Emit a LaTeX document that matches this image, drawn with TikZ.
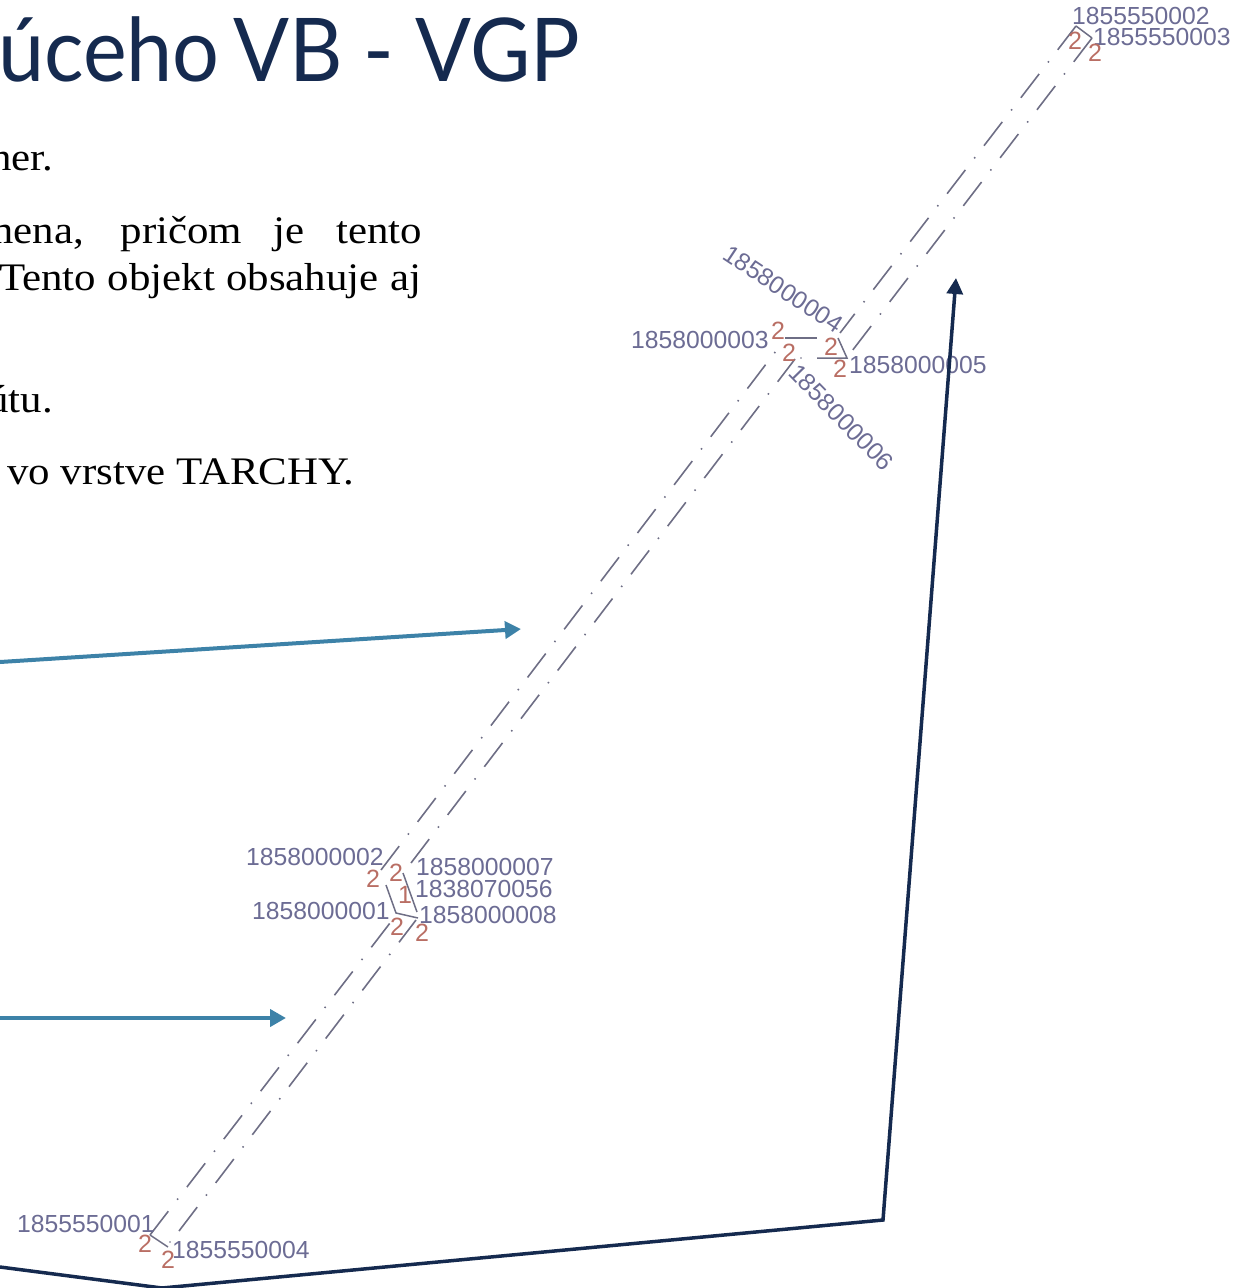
\documentclass[tikz,border=0pt]{standalone}
\usepackage{fontspec}
\setmainfont[FakeStretch=1.1]{Liberation Serif}
\newfontfamily\cadfont{Liberation Sans}
\newfontfamily\titlefont[FakeStretch=0.94]{Lato}
\usepackage{xcolor}
\usetikzlibrary{arrows.meta}
\definecolor{navyline}{HTML}{152A4F}
\definecolor{tealline}{HTML}{3D82A8}
\definecolor{cadblue}{HTML}{6C6C94}
\definecolor{cadred}{HTML}{B96E64}
\definecolor{cadline}{HTML}{6E6E85}
\tikzset{
    headline/.style={anchor=base west, inner sep=0pt, text=navyline, font=\titlefont\fontsize{88}{88}\selectfont},
    bodyline/.style={anchor=base west, inner sep=0pt, text=black, font=\fontsize{39}{39}\selectfont},
    point/.style={anchor=base west, inner sep=0pt, text=cadblue, font=\cadfont\fontsize{24.7}{24.7}\selectfont},
    height/.style={inner sep=0pt, text=cadred, font=\cadfont\fontsize{25}{25}\selectfont},
    axis/.style={draw=cadline, line width=1.6pt, dash pattern=on 30pt off 14.5pt on 1.5pt off 14.5pt},
    tick/.style={draw=cadline, line width=1.5pt},
    speck/.style={circle, fill=cadline, inner sep=0pt, minimum size=1.8pt},
    teal/.style={-{Triangle[length=16pt,width=17pt]}, draw=tealline, line width=4pt},
    navy/.style={-{Triangle[length=16pt,width=16pt]}, draw=navyline, line width=3.5pt}
}
\begin{document}
\begin{tikzpicture}[x=1pt, y=-1pt]
    \useasboundingbox (0,0) rectangle (1234,1288);

    % Text
    \node[headline] (T) at (-2,81) {úceho\hspace{-8pt} VB - VGP};
    \node[bodyline] (A) at (-10,170) {ner.};
    \node[bodyline] (B) at (-20,243) {\makebox[442pt][s]{mena, pričom je tento}};
    \node[bodyline] (C) at (-1,290) {\makebox[422pt][s]{Tento objekt obsahuje aj}};
    \node[bodyline] (D) at (-13,412) {útu.};
    \node[bodyline] (E) at (7,484) {vo vrstve TARCHY.};

    % Axes
    \coordinate (L1a) at (150,1235);  \coordinate (L1b) at (390,923);
    \coordinate (R1a) at (179,1231);  \coordinate (R1b) at (416,920);
    \coordinate (L2a) at (381,870);   \coordinate (L2b) at (776,351);
    \coordinate (R2a) at (411,863);   \coordinate (R2b) at (795,359);
    \coordinate (L3a) at (840,333);   \coordinate (L3b) at (1076,26);
    \coordinate (R3a) at (852,351);   \coordinate (R3b) at (1092,38);
    \draw[axis] (L1a) -- (L1b);
    \draw[axis] (R1a) -- (R1b);
    \draw[axis] (L2a) -- (L2b);
    \draw[axis] (R2a) -- (R2b);
    \draw[axis] (L3b) -- (L3a);
    \draw[axis] (R3b) -- (R3a);

    % Junctions
    \coordinate (J1) at (168,1247);
    \draw[tick] (L1a) -- (J1);
    \coordinate (J2a) at (386,885);  \coordinate (J2b) at (396,913);
    \coordinate (J2c) at (418,918);  \coordinate (J2d) at (403,873);
    \coordinate (J2e) at (417,912);
    \draw[tick] (J2a) -- (J2b) -- (J2c);
    \draw[tick] (J2d) -- (J2e);
    \coordinate (J3a) at (785,338);  \coordinate (J3b) at (817,338);
    \coordinate (J3c) at (817,358);  \coordinate (J3d) at (847,358);
    \coordinate (J3e) at (838,338);
    \draw[tick] (J3a) -- (J3b);
    \draw[tick] (J3c) -- (J3d) -- (J3e);
    \draw[tick] (L3b) -- (R3b);
    \node[speck] (D1) at (170,1242) {};
    \node[speck] (D2) at (801,358) {};

    % Points
    \node[point] (P1) at (1072,24) {1855550002};
    \node[point] (P2) at (1093,45) {1855550003};
    \node[point, rotate=-33.6] (P3) at (721,258) {1858000004};
    \node[point, rotate=-45.6] (P4) at (787,374) {1858000006};
    \node[point] (P5) at (631,348) {1858000003};
    \node[point] (P6) at (849,373) {1858000005};
    \node[point] (P7) at (246,865) {1858000002};
    \node[point] (P8) at (416,875) {1858000007};
    \node[point] (P9) at (415,897) {1838070056};
    \node[point] (P10) at (252,919) {1858000001};
    \node[point] (P11) at (419,923) {1858000008};
    \node[point] (P12) at (17,1232) {1855550001};
    \node[point] (P13) at (172,1258) {1855550004};

    % Heights
    \node[height] (H1) at (1075,41) {2};
    \node[height] (H2) at (1095,53) {2};
    \node[height] (H3) at (778,331) {2};
    \node[height] (H4) at (789,353) {2};
    \node[height] (H5) at (831,347) {2};
    \node[height] (H6) at (840,369) {2};
    \node[height] (H7) at (373,879) {2};
    \node[height] (H8) at (396,873) {2};
    \node[height] (H9) at (405,895) {1};
    \node[height] (H10) at (397,927) {2};
    \node[height] (H11) at (422,933) {2};
    \node[height] (H12) at (145,1244) {2};
    \node[height] (H13) at (168,1260) {2};

    % Arrows
    \coordinate (A1a) at (0,662);     \coordinate (A1b) at (521,629);
    \coordinate (A2a) at (0,1018);    \coordinate (A2b) at (286,1018);
    \coordinate (N1) at (0,1267);     \coordinate (N2) at (162,1288);
    \coordinate (N3) at (883,1220);   \coordinate (N4) at (956,278);
    \draw[teal] (A1a) -- (A1b);
    \draw[teal] (A2a) -- (A2b);
    \draw[navy] (N1) -- (N2) -- (N3) -- (N4);
\end{tikzpicture}
\end{document}
